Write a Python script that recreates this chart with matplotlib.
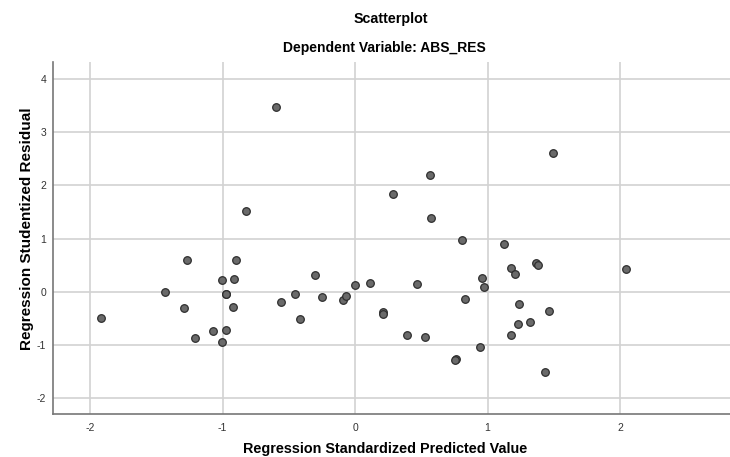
import matplotlib.pyplot as plt

# values (standardized predicted, studentized residual)
pred = [-1.914, -1.434, -1.291, -1.268, -1.211, -1.068, -1.002, -1.002, -0.975, -0.972,
        -0.975, -0.922, -0.914, -0.899, -0.824, -0.598, -0.560, -0.455, -0.417, -0.304,
        -0.246, -0.088, -0.070, 0.000, 0.113, 0.213, 0.213, 0.289, 0.394, 0.465,
        0.530, 0.565, 0.573, 0.761, 0.758, 0.806, 0.829, 0.942, 0.955, 0.975,
        1.125, 1.176, 1.176, 1.208, 1.233, 1.238, 1.321, 1.366, 1.379, 1.434,
        1.464, 1.492, 2.042]
resid = [-0.49, 0.00, -0.31, 0.60, -0.88, -0.75, 0.21, -0.95, -0.04, -0.05,
         -0.72, -0.28, 0.23, 0.60, 1.52, 3.47, -0.19, -0.04, -0.51, 0.31,
         -0.10, -0.16, -0.09, 0.12, 0.17, -0.38, -0.43, 1.83, -0.81, 0.14,
         -0.86, 2.20, 1.39, -1.27, -1.28, 0.97, -0.14, -1.05, 0.25, 0.08,
         0.89, 0.45, -0.81, 0.33, -0.61, -0.23, -0.58, 0.53, 0.51, -1.51,
         -0.36, 2.61, 0.42]
xticks = [-2, -1, 0, 1, 2]
yticks = [-2, -1, 0, 1, 2, 3, 4]

plt.rcParams['font.family'] = ['Liberation Sans', 'DejaVu Sans']
plt.rcParams['axes.unicode_minus'] = False  # spss uses a plain hyphen

fig = plt.figure(figsize=(7.3, 4.57), dpi=100)
ax = fig.add_axes([0.073, 0.0934, 0.927, 0.7716])

ax.scatter(pred, resid, s=30, c="#6a6a6a", edgecolors="#2e2e2e", linewidths=0.9, zorder=3)

ax.set_xlim(-2.277, 2.83)
ax.set_ylim(-2.31, 4.33)
ax.set_xticks(xticks)
ax.set_yticks(yticks)
ax.grid(True, color="#d2d2d2", linewidth=1.2)
ax.set_axisbelow(True)
ax.tick_params(length=0, labelsize=7.5, colors="#333333")
ax.tick_params(axis="x", pad=6)
ax.tick_params(axis="y", pad=5)

for s in ["top", "right"]:
    ax.spines[s].set_visible(False)
for s in ["left", "bottom"]:
    ax.spines[s].set_color("#777777")
    ax.spines[s].set_linewidth(1.2)

fig.text(0.535, 0.958, "Scatterplot", ha="center", va="center", fontsize=10.3, fontweight="bold")
fig.text(0.527, 0.895, "Dependent Variable: ABS_RES", ha="center", va="center", fontsize=10, fontweight="bold")
fig.text(0.527, 0.003, "Regression Standardized Predicted Value", ha="center", va="bottom", fontsize=10.4, fontweight="bold")
fig.text(0.037, 0.499, "Regression Studentized Residual", ha="center", va="center", rotation=90, fontsize=11, fontweight="bold")

fig.savefig("out.png", dpi=100)
